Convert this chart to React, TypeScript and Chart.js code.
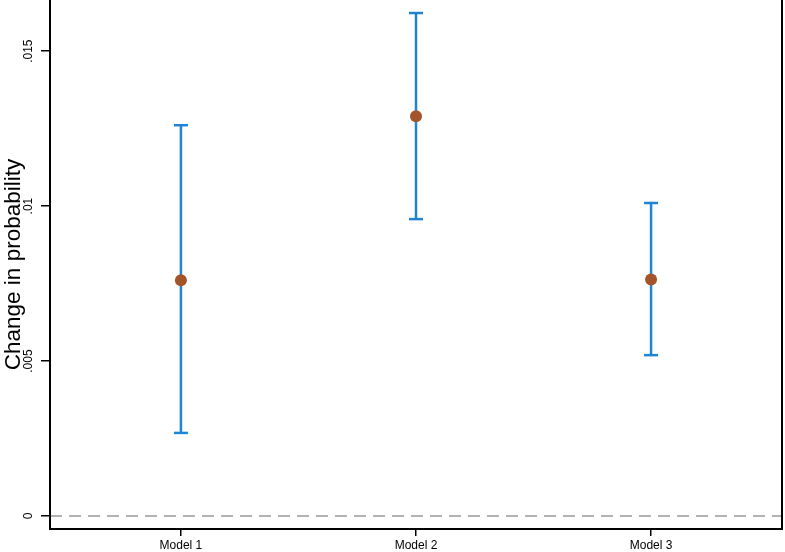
import React, { useEffect, useRef } from "react";
import { Chart, registerables } from "chart.js";

Chart.register(...registerables);

const categories = ["Model 1", "Model 2", "Model 3"];
const estimates = [0.00761, 0.0129, 0.00763];
const lowerCI = [0.00268, 0.00958, 0.00519];
const upperCI = [0.01261, 0.01623, 0.0101];
const yTicks = [0, 0.005, 0.01, 0.015];
const yTickLabels = ["0", ".005", ".01", ".015"];
const xPositions = [1, 2, 3];

const X_MIN = 0.443;
const X_MAX = 3.557;
const Y_MIN = -0.00042;
const Y_MAX = 0.01665;

const BLUE = "rgb(30,132,214)";
const BROWN = "rgb(164,84,42)";
const FONT = "'Liberation Sans', Arial, Helvetica, sans-serif";

const framePlugin = {
  id: "frame",
  afterDatasetsDraw(chart: any) {
    const { ctx, chartArea } = chart;
    ctx.save();
    ctx.strokeStyle = "#000";
    ctx.lineWidth = 2;
    ctx.strokeRect(chartArea.left, chartArea.top - 2, chartArea.right - chartArea.left, chartArea.bottom - chartArea.top + 2);
    ctx.restore();
  },
};

export default function App() {
  const ref = useRef<HTMLCanvasElement | null>(null);

  useEffect(() => {
    if (!ref.current) return;
    const errorDatasets = xPositions.map((x, i) => ({
      type: "scatter" as const,
      data: [
        { x, y: lowerCI[i] },
        { x, y: upperCI[i] },
      ],
      showLine: true,
      borderColor: BLUE,
      borderWidth: 2.5,
      pointStyle: "line" as const,
      pointRadius: 7,
      pointBorderWidth: 2.5,
      pointBorderColor: BLUE,
      pointBackgroundColor: BLUE,
      clip: false,
      order: 2,
    }));

    const chart = new Chart(ref.current, {
      type: "scatter",
      data: {
        datasets: [
          {
            type: "line",
            data: [
              { x: X_MIN, y: 0 },
              { x: X_MAX, y: 0 },
            ],
            borderColor: "rgb(178,178,178)",
            borderWidth: 2,
            borderDash: [12, 7],
            pointRadius: 0,
            order: 3,
          } as any,
          ...errorDatasets,
          {
            type: "scatter",
            data: xPositions.map((x, i) => ({ x, y: estimates[i] })),
            pointStyle: "circle",
            pointRadius: 6,
            pointBackgroundColor: BROWN,
            pointBorderColor: BROWN,
            pointBorderWidth: 0,
            order: 1,
          },
        ],
      },
      options: {
        animation: false,
        responsive: false,
        maintainAspectRatio: false,
        layout: { autoPadding: false, padding: { top: 0, right: 3, left: 0, bottom: 0 } },
        plugins: {
          legend: { display: false },
          tooltip: { enabled: false },
        },
        scales: {
          x: {
            type: "linear",
            min: X_MIN,
            max: X_MAX,
            afterBuildTicks: (scale: any) => {
              scale.ticks = xPositions.map((v) => ({ value: v }));
            },
            afterFit: (scale: any) => {
              scale.height = 23;
              scale.paddingLeft = 0;
              scale.paddingRight = 0;
            },
            ticks: {
              autoSkip: false,
              maxRotation: 0,
              minRotation: 0,
              padding: 2,
              color: "#000",
              font: { family: FONT, size: 12 },
              callback: (value: any) => {
                const idx = xPositions.indexOf(Number(value));
                return idx >= 0 ? categories[idx] : "";
              },
            },
            grid: {
              display: true,
              drawOnChartArea: false,
              drawTicks: true,
              tickLength: 7,
              tickWidth: 1.5,
              tickColor: "#000",
              color: "#000",
              lineWidth: 1.5,
            },
            border: { display: false },
          },
          y: {
            type: "linear",
            min: Y_MIN,
            max: Y_MAX,
            afterBuildTicks: (scale: any) => {
              scale.ticks = yTicks.map((v) => ({ value: v }));
            },
            afterFit: (scale: any) => {
              scale.width = 50;
              scale.paddingTop = 0;
              scale.paddingBottom = 0;
            },
            ticks: {
              autoSkip: false,
              minRotation: 90,
              maxRotation: 90,
              crossAlign: "center",
              padding: 1,
              color: "#000",
              font: { family: FONT, size: 12 },
              callback: (value: any) => {
                const idx = yTicks.indexOf(Number(value));
                return idx >= 0 ? yTickLabels[idx] : "";
              },
            },
            title: {
              display: true,
              text: "Change in probability",
              color: "#000",
              font: { family: FONT, size: 22.5 },
              padding: { top: 0, bottom: 0 },
            },
            grid: {
              display: true,
              drawOnChartArea: false,
              drawTicks: true,
              tickLength: 9,
              tickWidth: 1.5,
              tickColor: "#000",
              color: "#000",
              lineWidth: 1.5,
            },
            border: { display: false },
          },
        },
      },
      plugins: [framePlugin],
    });
    return () => chart.destroy();
  }, []);

  return (
    <div style={{ position: "fixed", left: 0, top: 0, width: 785, height: 552, background: "#fff" }}>
      <canvas ref={ref} width={785} height={552} style={{ display: "block" }} />
    </div>
  );
}
